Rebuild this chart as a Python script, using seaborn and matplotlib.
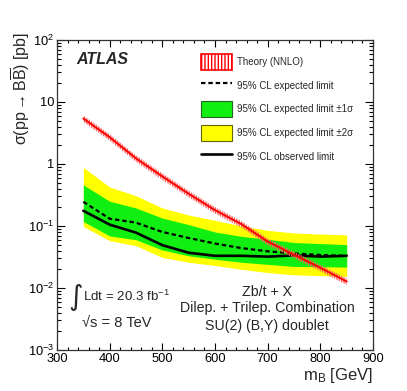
import matplotlib
matplotlib.use("Agg")
import matplotlib.pyplot as plt
import matplotlib.ticker as mticker
from matplotlib.patches import Patch
from matplotlib.lines import Line2D
import seaborn as sns
import pandas as pd
import numpy as np

# Data
mass = [350, 400, 450, 500, 550, 600, 650, 700, 750, 800, 850]
observed = [0.176, 0.105, 0.078, 0.049, 0.037, 0.033, 0.033, 0.032, 0.0335, 0.032, 0.033]
expected = [0.245, 0.131, 0.113, 0.080, 0.064, 0.052, 0.044, 0.039, 0.036, 0.034, 0.033]
one_sigma_hi = [0.46, 0.25, 0.195, 0.134, 0.105, 0.080, 0.068, 0.061, 0.054, 0.052, 0.050]
one_sigma_lo = [0.118, 0.069, 0.060, 0.041, 0.033, 0.029, 0.026, 0.024, 0.0222, 0.022, 0.0217]
two_sigma_hi = [0.88, 0.425, 0.307, 0.195, 0.15, 0.123, 0.10, 0.085, 0.077, 0.074, 0.072]
two_sigma_lo = [0.098, 0.058, 0.048, 0.031, 0.026, 0.023, 0.020, 0.0177, 0.0163, 0.0158, 0.0153]
theory = [5.4, 2.7, 1.23, 0.63, 0.33, 0.18, 0.107, 0.056, 0.0343, 0.0211, 0.0127]
theory_rel_unc = 0.12

y_ticks = [1e-3, 1e-2, 1e-1, 1, 10, 100]
y_tick_labels = ["$10^{-3}$", "$10^{-2}$", "$10^{-1}$", "1", "10", "$10^{2}$"]
x_ticks = [300, 400, 500, 600, 700, 800, 900]

legend_labels = ["Theory (NNLO)", "95% CL expected limit",
                 "95% CL expected limit \u00b11\u03c3",
                 "95% CL expected limit \u00b12\u03c3",
                 "95% CL observed limit"]

df = pd.DataFrame({"mass": mass, "observed": observed, "expected": expected,
                   "theory": theory})

sns.set_theme(style="ticks")
plt.rcParams["font.family"] = ["Liberation Sans", "DejaVu Sans"]
plt.rcParams["mathtext.fontset"] = "custom"
plt.rcParams["mathtext.rm"] = "Liberation Sans"
plt.rcParams["mathtext.it"] = "Liberation Sans:italic"
plt.rcParams["mathtext.bf"] = "Liberation Sans:bold"
plt.rcParams["mathtext.sf"] = "Liberation Sans"

fig = plt.figure(figsize=(4.07, 3.91), dpi=100)
ax = fig.add_axes([0.140, 0.105, 0.7765, 0.7928])

# bands
ax.fill_between(df["mass"], two_sigma_lo, two_sigma_hi, color="#ffff00", lw=0, zorder=1)
ax.fill_between(df["mass"], one_sigma_lo, one_sigma_hi, color="#11ee11", lw=0, zorder=2)

# limits
sns.lineplot(data=df, x="mass", y="expected", ax=ax, color="black", lw=1.6,
             linestyle=(0, (2, 1.3)), zorder=3)
sns.lineplot(data=df, x="mass", y="observed", ax=ax, color="black", lw=1.9, zorder=4)

# theory
th = np.array(theory)
ax.fill_between(df["mass"], th * (1 - theory_rel_unc), th * (1 + theory_rel_unc),
                facecolor="none", edgecolor="#ff6060", hatch="|" * 7, lw=0, zorder=5)
sns.lineplot(data=df, x="mass", y="theory", ax=ax, color="#ff0000", lw=1.4, zorder=6)

ax.set_yscale("log")
ax.set_xlim(300, 900)
ax.set_ylim(1e-3, 1e2)
ax.yaxis.set_major_locator(mticker.FixedLocator(y_ticks))
ax.set_yticklabels(y_tick_labels)
ax.yaxis.set_minor_locator(mticker.LogLocator(base=10, subs=np.arange(2, 10)))
ax.yaxis.set_minor_formatter(mticker.NullFormatter())
ax.set_xticks(x_ticks)
ax.xaxis.set_minor_locator(mticker.MultipleLocator(20))

ax.tick_params(which="both", direction="in", top=True, right=True,
               labelsize=9.3, colors="black", width=0.8)
ax.tick_params(axis="x", which="major", length=5, pad=2)
ax.tick_params(axis="x", which="minor", length=2.5)
ax.tick_params(axis="y", which="major", length=6, pad=2)
ax.tick_params(axis="y", which="minor", length=3)
for s in ax.spines.values():
    s.set_linewidth(0.9)
    s.set_color("#333333")

ax.set_xlabel("m$_{\\mathrm{B}}$ [GeV]", fontsize=12, loc="right", labelpad=1)
ax.set_ylabel("$\\mathrm{\\sigma(pp \\rightarrow B\\overline{B})}$ [pb]", fontsize=11.5,
              loc="top")
ax.yaxis.set_label_coords(-0.078, 1.026)

# legend
handles = [Patch(facecolor="white", edgecolor="#ff0000", hatch="|" * 5, lw=1.2),
           Line2D([], [], color="black", lw=1.6, linestyle=(0, (2, 1.3))),
           Patch(facecolor="#11ee11", edgecolor="#226622", lw=0.8),
           Patch(facecolor="#ffff00", edgecolor="#666600", lw=0.8),
           Line2D([], [], color="black", lw=1.9)]
ax.legend(handles, legend_labels, loc="upper left", bbox_to_anchor=(0.456, 0.955),
          frameon=False, fontsize=7, handlelength=3.2, handleheight=2.15,
          labelspacing=0.79, handletextpad=0.5, borderpad=0, borderaxespad=0)

# annotations
ax.text(0.06, 0.938, "ATLAS", transform=ax.transAxes, fontsize=11.5,
        fontweight="bold", fontstyle="italic", va="center", ha="left")
ax.text(0.082, 0.172, "\u222b", transform=ax.transAxes, fontsize=20,
        va="center", ha="right", family=["DejaVu Sans"])
ax.text(0.082, 0.174, "Ldt = 20.3 fb$^{\\mathrm{-1}}$", transform=ax.transAxes,
        fontsize=9.6, va="center", ha="left")
ax.text(0.078, 0.087, "\u221as = 8 TeV", transform=ax.transAxes,
        fontsize=10.5, va="center", ha="left")
ax.text(0.665, 0.187, "Zb/t + X", transform=ax.transAxes, fontsize=10.2,
        va="center", ha="center")
ax.text(0.665, 0.135, "Dilep. + Trilep. Combination", transform=ax.transAxes,
        fontsize=10.2, va="center", ha="center")
ax.text(0.665, 0.077, "SU(2) (B,Y) doublet", transform=ax.transAxes,
        fontsize=10.2, va="center", ha="center")

fig.savefig("out.png", dpi=100)
